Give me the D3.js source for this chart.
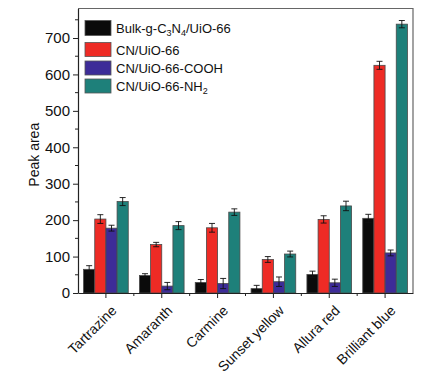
<!DOCTYPE html>
<html>
<head>
<meta charset="utf-8">
<script src="https://cdn.jsdelivr.net/npm/d3@7"></script>
<style>
  body { margin: 0; background: #fff; }
  text { font-family: "Liberation Sans", Arial, sans-serif; fill: #111; }
</style>
</head>
<body>
<div id="chart"></div>
<script>
var categories = ["Tartrazine", "Amaranth", "Carmine", "Sunset yellow", "Allura red", "Brilliant blue"];
var seriesNames = ["Bulk-g-C3N4/UiO-66", "CN/UiO-66", "CN/UiO-66-COOH", "CN/UiO-66-NH2"];
var bulkValues = [65, 48, 29, 12, 51, 205];
var bulkErrors = [10, 5, 8, 9, 9, 11];
var cnValues = [203, 133, 179, 92, 202, 625];
var cnErrors = [12, 6, 12, 8, 10, 11];
var coohValues = [178, 19, 26, 31, 28, 110];
var coohErrors = [8, 10, 14, 13, 10, 8];
var nh2Values = [251, 185, 222, 107, 239, 738];
var nh2Errors = [11, 11, 9, 8, 13, 10];
var yTicks = [0, 100, 200, 300, 400, 500, 600, 700];

var colors = ["#0b0b0b", "#ee2b25", "#3d2c98", "#1e807a"];
var series = [
  {name: seriesNames[0], values: bulkValues, errors: bulkErrors},
  {name: seriesNames[1], values: cnValues, errors: cnErrors},
  {name: seriesNames[2], values: coohValues, errors: coohErrors},
  {name: seriesNames[3], values: nh2Values, errors: nh2Errors}
];

var margin = {top: 8.5, right: 19, bottom: 84, left: 78},
    width = 432 - margin.left - margin.right,
    height = 377 - margin.top - margin.bottom;

var svg = d3.select("#chart").append("svg")
    .attr("width", 432)
    .attr("height", 377)
  .append("g")
    .attr("transform", "translate(" + margin.left + "," + margin.top + ")");

var x0 = d3.scaleBand().domain(categories).range([0, width]).paddingInner(0.2).paddingOuter(0.1);
var x1 = d3.scaleBand().domain(d3.range(series.length)).range([0, x0.bandwidth()]);
var y = d3.scaleLinear().domain([0, 781]).range([height, 0]);

// frame (top & right)
svg.append("path")
    .attr("d", "M0,0H" + width + "V" + height)
    .attr("fill", "none")
    .attr("stroke", "#666")
    .attr("stroke-width", 1.2);

// bars
var groups = svg.selectAll(".group")
    .data(categories)
  .enter().append("g")
    .attr("transform", function(d) { return "translate(" + x0(d) + ",0)"; });

function cells(d, i) {
  return series.map(function(s, k) { return {k: k, v: s.values[i], e: s.errors[i]}; });
}

groups.selectAll("rect")
    .data(cells)
  .enter().append("rect")
    .attr("x", function(d) { return x1(d.k); })
    .attr("width", x1.bandwidth())
    .attr("y", function(d) { return y(d.v); })
    .attr("height", function(d) { return height - y(d.v); })
    .attr("fill", function(d) { return colors[d.k]; })
    .attr("stroke", "#4a4a4a")
    .attr("stroke-width", 0.8);

// error bars
var err = groups.selectAll(".err")
    .data(cells)
  .enter().append("g")
    .attr("class", "err")
    .attr("stroke", "#111")
    .attr("stroke-width", 0.9);

err.append("line")
    .attr("x1", function(d) { return x1(d.k) + x1.bandwidth() / 2; })
    .attr("x2", function(d) { return x1(d.k) + x1.bandwidth() / 2; })
    .attr("y1", function(d) { return y(d.v - d.e); })
    .attr("y2", function(d) { return y(d.v + d.e); });
[-1, 1].forEach(function(sgn) {
  err.append("line")
      .attr("x1", function(d) { return x1(d.k) + x1.bandwidth() / 2 - 3; })
      .attr("x2", function(d) { return x1(d.k) + x1.bandwidth() / 2 + 3; })
      .attr("y1", function(d) { return y(d.v + sgn * d.e); })
      .attr("y2", function(d) { return y(d.v + sgn * d.e); });
});

// y axis
var yAxis = svg.append("g")
    .call(d3.axisLeft(y).tickValues(yTicks).tickSize(5).tickSizeOuter(0));
yAxis.select(".domain").attr("stroke", "#222").attr("stroke-width", 1.2);
yAxis.selectAll(".tick line").attr("stroke", "#222");
yAxis.selectAll(".tick text").attr("font-size", 15).attr("x", -8);

svg.append("g").selectAll("line")
    .data(d3.range(50, 781, 100))
  .enter().append("line")
    .attr("x1", -3).attr("x2", 0)
    .attr("y1", function(d) { return y(d); })
    .attr("y2", function(d) { return y(d); })
    .attr("stroke", "#222");

svg.append("text")
    .attr("transform", "translate(-39," + (height / 2 + 4) + ") rotate(-90)")
    .attr("text-anchor", "middle")
    .attr("font-size", 14)
    .text("Peak area");

// x axis
var xAxis = svg.append("g")
    .attr("transform", "translate(0," + height + ")")
    .call(d3.axisBottom(x0).tickSize(5).tickSizeOuter(0));
xAxis.select(".domain").attr("stroke", "#222").attr("stroke-width", 1.2);
xAxis.selectAll(".tick line").attr("stroke", "#222");
xAxis.selectAll(".tick text")
    .attr("font-size", 14)
    .attr("text-anchor", "end")
    .attr("transform", "translate(8,15) rotate(-45)")
    .attr("y", 0)
    .attr("dy", "0.35em");

svg.append("g").selectAll("line")
    .data(d3.range(1, categories.length))
  .enter().append("line")
    .attr("x1", function(d) { return x0.step() * d; })
    .attr("x2", function(d) { return x0.step() * d; })
    .attr("y1", height).attr("y2", height + 3)
    .attr("stroke", "#222");

// legend
var legendY = [12, 34, 52.5, 70.5];
var legend = svg.append("g").attr("transform", "translate(7,0)");
var item = legend.selectAll("g")
    .data(series)
  .enter().append("g")
    .attr("transform", function(d, i) { return "translate(0," + legendY[i] + ")"; });

item.append("rect")
    .attr("width", 26)
    .attr("height", function(d, i) { return i === 0 ? 15 : 14; })
    .attr("fill", function(d, i) { return colors[i]; })
    .attr("stroke", "#555")
    .attr("stroke-width", 0.8);

item.append("text")
    .attr("x", 31)
    .attr("y", 12)
    .attr("font-size", 13)
    .each(function(d) {
      var t = d3.select(this);
      if (d.name === seriesNames[0]) {
        t.append("tspan").text("Bulk-g-C");
        t.append("tspan").attr("font-size", 9).attr("dy", 3).text("3");
        t.append("tspan").attr("dy", -3).text("N");
        t.append("tspan").attr("font-size", 9).attr("dy", 3).text("4");
        t.append("tspan").attr("dy", -3).text("/UiO-66");
      } else if (d.name === seriesNames[3]) {
        t.append("tspan").text("CN/UiO-66-NH");
        t.append("tspan").attr("font-size", 9).attr("dy", 3).text("2");
      } else {
        t.text(d.name);
      }
    });
</script>
</body>
</html>
